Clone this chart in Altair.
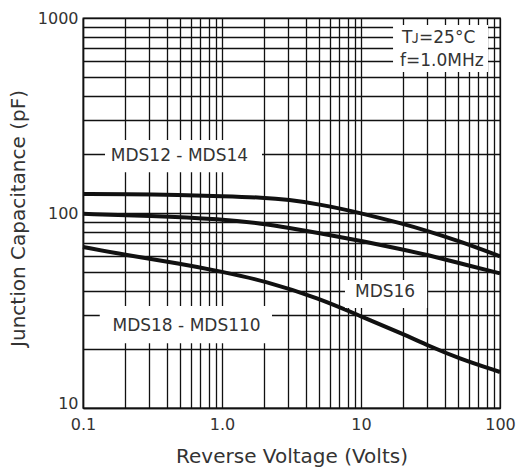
import altair as alt
import pandas as pd

# Curve data (Volts, pF)
volts_top = [0.1, 0.2, 0.5, 1, 2, 3, 5, 10, 20, 30, 50, 100]
cap_top = [125, 125, 124, 122, 120, 117, 111, 100, 88, 81, 72, 60]
volts_mid = [0.1, 0.3, 1, 2, 3, 5, 10, 20, 30, 50, 100]
cap_mid = [99, 97, 93, 88, 84, 79, 72, 65, 61, 55.5, 49]
volts_low = [0.1, 0.2, 0.5, 1, 2, 5, 10, 20, 30, 50, 100]
cap_low = [67, 61, 55, 50, 45, 36.5, 29.5, 24, 21, 18, 15.3]

x_grid = [0.1, 0.2, 0.3, 0.4, 0.5, 0.6, 0.7, 0.8, 0.9,
          1, 2, 3, 4, 5, 6, 7, 8, 9,
          10, 20, 30, 40, 50, 60, 70, 80, 90, 100]
y_grid = [10, 20, 30, 40, 50, 60, 70, 80, 90,
          100, 200, 300, 400, 500, 600, 700, 800, 900, 1000]

# Annotation labels (data coordinates)
label_text = ["MDS12 - MDS14", "MDS18 - MDS110", "MDS16"]
label_x = [0.494, 0.556, 14.9]
label_y = [195, 26.3, 39.4]
box_x1 = [0.144, 0.132, 7.67, 17.0]
box_x2 = [1.94, 2.29, 29.9, 82.0]
box_y1 = [162, 21.5, 32.6, 528]
box_y2 = [237, 33.3, 45.3, 920]
cond_text = ["T\u1d0a=25°C", "f=1.0MHz"]
cond_x = [19.7, 19.1]
cond_y = [789, 601]

curves = pd.concat([
    pd.DataFrame({"v": volts_top, "c": cap_top, "s": "MDS12 - MDS14"}),
    pd.DataFrame({"v": volts_mid, "c": cap_mid, "s": "MDS16"}),
    pd.DataFrame({"v": volts_low, "c": cap_low, "s": "MDS18 - MDS110"}),
])
labels = pd.DataFrame({"t": label_text, "x": label_x, "y": label_y})
boxes = pd.DataFrame({"x1": box_x1, "x2": box_x2, "y1": box_y1, "y2": box_y2})
conds = pd.DataFrame({"t": cond_text, "x": cond_x, "y": cond_y})

xs = alt.Scale(type="log", domain=[0.1, 100], nice=False)
ys = alt.Scale(type="log", domain=[10, 1000], nice=False)

x_label_expr = ("datum.value == 0.1 ? '0.1' : datum.value == 1 ? '1.0' : "
                "datum.value == 10 ? '10' : datum.value == 100 ? '100' : ''")
y_label_expr = ("datum.value == 10 ? '10' : datum.value == 100 ? '100' : "
                "datum.value == 1000 ? '1000' : ''")

x_axis = alt.Axis(
    values=x_grid, labelExpr=x_label_expr, title="Reverse Voltage (Volts)",
    labelPadding=8, labelFlush=False, titleY=54, titleBaseline="alphabetic")
y_axis = alt.Axis(
    values=y_grid, labelExpr=y_label_expr, title="Junction Capacitance (pF)",
    labelPadding=5, labelFlush=False, titleX=-59, titleY=200, titleBaseline="alphabetic",
    labelBaseline={"condition": {"test": "datum.value == 10", "value": "alphabetic"},
                   "value": "middle"})

lines = alt.Chart(curves).mark_line(
    color="#111", strokeWidth=4, interpolate="basis"
).encode(
    x=alt.X("v:Q", scale=xs, axis=x_axis),
    y=alt.Y("c:Q", scale=ys, axis=y_axis),
    detail="s:N",
)

rects = alt.Chart(boxes).mark_rect(fill="white").encode(
    x=alt.X("x1:Q", scale=xs, axis=x_axis), x2="x2:Q",
    y=alt.Y("y1:Q", scale=ys, axis=y_axis), y2="y2:Q",
)

texts = alt.Chart(labels).mark_text(
    font="DejaVu Sans", fontSize=17, color="#333", align="center", baseline="middle"
).encode(
    x=alt.X("x:Q", scale=xs, axis=x_axis),
    y=alt.Y("y:Q", scale=ys, axis=y_axis),
    text="t:N",
)

cond = alt.Chart(conds).mark_text(
    font="DejaVu Sans", fontSize=17, color="#333", align="left", baseline="middle"
).encode(
    x=alt.X("x:Q", scale=xs, axis=x_axis),
    y=alt.Y("y:Q", scale=ys, axis=y_axis),
    text="t:N",
)

chart = alt.layer(lines, rects, texts, cond).properties(
    width=417, height=390,
    padding={"left": 83, "top": 18, "right": 21, "bottom": 62},
    autosize=alt.AutoSizeParams(type="none"),
).configure_view(
    stroke="#111", strokeWidth=1.3
).configure_axis(
    domainColor="#111", domainWidth=1.5,
    grid=True, gridColor="#111", gridWidth=1.3, gridOpacity=1,
    ticks=False,
    labelFont="DejaVu Sans", labelFontSize=16, labelColor="#333",
    titleFont="DejaVu Sans", titleFontSize=20, titleFontWeight="normal", titleColor="#333",
)

chart.save("out.html", embed_options={"renderer": "svg", "actions": False})
